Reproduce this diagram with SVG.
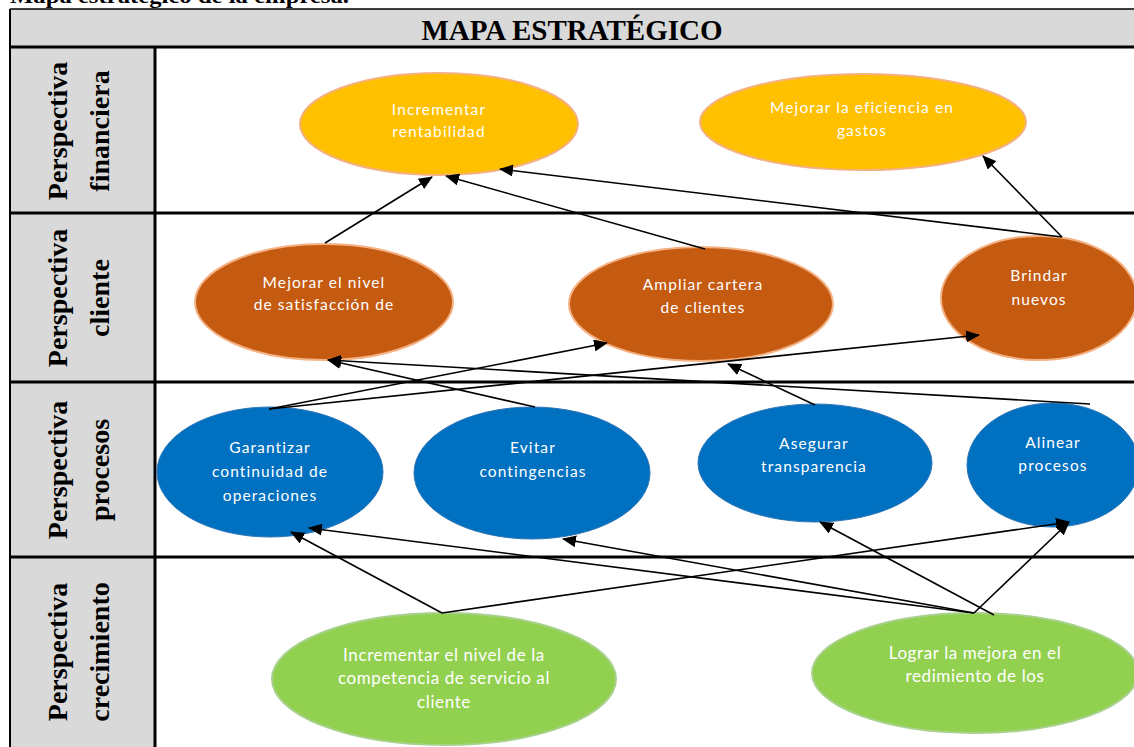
<svg xmlns="http://www.w3.org/2000/svg" width="1134" height="747" viewBox="0 0 1134 747">
<style>
.hdr{font-family:"Liberation Serif",serif;font-weight:bold;fill:#000}
.lbl{font-family:"Liberation Serif",serif;font-weight:bold;font-size:28px;fill:#000;text-anchor:middle}
.nt{font-family:Lato,"Liberation Sans",sans-serif;font-size:15.5px;fill:#fff;text-anchor:middle;letter-spacing:1.1px}
.gt{font-family:Lato,"Liberation Sans",sans-serif;font-size:17px;fill:#fff;text-anchor:middle;letter-spacing:0.6px}
.fin{fill:#FFC000;stroke:#F4B183;stroke-width:2}
.cli{fill:#C55A11;stroke:#F4B183;stroke-width:2}
.pro{fill:#0070C0;stroke:#2E75B6;stroke-width:1}
.cre{fill:#92D050;stroke:#A9D18E;stroke-width:2}
.c{stroke:#000;stroke-width:1.6;fill:none;marker-end:url(#ah)}
.rule{stroke:#000;stroke-width:3}
</style>
<defs>
<marker id="ah" markerUnits="userSpaceOnUse" markerWidth="14" markerHeight="12" refX="13" refY="6" orient="auto">
<path d="M0,0 L14,6 L0,12 z" fill="#000"/>
</marker>
</defs>
<rect width="1134" height="747" fill="#fff"/>
<text class="hdr" x="10" y="3" font-size="20" textLength="339" lengthAdjust="spacingAndGlyphs">Mapa estratégico de la empresa.</text>
<g id="table">
<rect x="10" y="9" width="1130" height="38" fill="#D9D9D9"/>
<rect x="10" y="47" width="145" height="700" fill="#D9D9D9"/>
<line x1="10" y1="9" x2="1134" y2="9" stroke="#000" stroke-width="1.5"/>
<line x1="10" y1="9" x2="10" y2="747" stroke="#000" stroke-width="2"/>
<line x1="155" y1="47" x2="155" y2="747" class="rule"/>
<line x1="10" y1="47" x2="1134" y2="47" class="rule"/>
<line x1="10" y1="213" x2="1134" y2="213" class="rule"/>
<line x1="10" y1="382" x2="1134" y2="382" class="rule"/>
<line x1="10" y1="557" x2="1134" y2="557" class="rule"/>
<text class="hdr" x="572" y="40" font-size="29" text-anchor="middle">MAPA ESTRATÉGICO</text>
<g transform="translate(67,131) rotate(-90)"><text class="lbl" x="0" y="0">Perspectiva</text><text class="lbl" x="0" y="42">financiera</text></g>
<g transform="translate(67,298) rotate(-90)"><text class="lbl" x="0" y="0">Perspectiva</text><text class="lbl" x="0" y="42">cliente</text></g>
<g transform="translate(67,470) rotate(-90)"><text class="lbl" x="0" y="0">Perspectiva</text><text class="lbl" x="0" y="42">procesos</text></g>
<g transform="translate(67,652) rotate(-90)"><text class="lbl" x="0" y="0">Perspectiva</text><text class="lbl" x="0" y="42">crecimiento</text></g>
</g>
<g id="n-incrementar-rentabilidad">
<ellipse class="fin" cx="439" cy="124" rx="139" ry="51"/>
<text class="nt" x="439" y="115">Incrementar</text>
<text class="nt" x="439" y="137">rentabilidad</text>
</g>
<g id="n-mejorar-eficiencia">
<ellipse class="fin" cx="863" cy="122" rx="163" ry="48"/>
<text class="nt" x="862" y="113">Mejorar la eficiencia en</text>
<text class="nt" x="862" y="136">gastos</text>
</g>
<g id="n-mejorar-satisfaccion">
<ellipse class="cli" cx="324" cy="302" rx="129" ry="58"/>
<text class="nt" x="324" y="288">Mejorar el nivel</text>
<text class="nt" x="324" y="310">de satisfacción de</text>
</g>
<g id="n-ampliar-cartera">
<ellipse class="cli" cx="701" cy="304" rx="132" ry="57"/>
<text class="nt" x="703" y="290">Ampliar  cartera</text>
<text class="nt" x="703" y="313">de clientes</text>
</g>
<g id="n-brindar-nuevos">
<ellipse class="cli" cx="1039" cy="298" rx="98" ry="62"/>
<text class="nt" x="1039" y="281">Brindar</text>
<text class="nt" x="1039" y="305">nuevos</text>
</g>
<g id="n-garantizar">
<ellipse class="pro" cx="270" cy="472" rx="113" ry="65"/>
<text class="nt" x="270" y="453">Garantizar</text>
<text class="nt" x="270" y="477">continuidad de</text>
<text class="nt" x="270" y="501">operaciones</text>
</g>
<g id="n-evitar">
<ellipse class="pro" cx="532" cy="473" rx="118" ry="66"/>
<text class="nt" x="533" y="453">Evitar</text>
<text class="nt" x="533" y="477">contingencias</text>
</g>
<g id="n-asegurar">
<ellipse class="pro" cx="815" cy="463" rx="117" ry="59"/>
<text class="nt" x="814" y="449">Asegurar</text>
<text class="nt" x="814" y="472">transparencia</text>
</g>
<g id="n-alinear">
<ellipse class="pro" cx="1053" cy="465" rx="86" ry="62"/>
<text class="nt" x="1053" y="448">Alinear</text>
<text class="nt" x="1053" y="471">procesos</text>
</g>
<g id="n-competencia">
<ellipse class="cre" cx="444" cy="679" rx="172" ry="66"/>
<text class="gt" x="444" y="661">Incrementar el nivel de la</text>
<text class="gt" x="444" y="684">competencia de servicio al</text>
<text class="gt" x="444" y="708">cliente</text>
</g>
<g id="n-lograr-mejora">
<ellipse class="cre" cx="975" cy="673" rx="163" ry="60"/>
<text class="gt" x="975" y="659">Lograr la mejora en el</text>
<text class="gt" x="975" y="682">redimiento de los</text>
</g>
<g id="connectors">
<line class="c" x1="325" y1="243" x2="432" y2="177"/>
<line class="c" x1="705" y1="249" x2="446" y2="176"/>
<line class="c" x1="1062" y1="237" x2="500" y2="169"/>
<line class="c" x1="1062" y1="237" x2="983" y2="156"/>
<line class="c" x1="269" y1="409" x2="607" y2="343"/>
<line class="c" x1="269" y1="409" x2="979" y2="335"/>
<line class="c" x1="535" y1="407" x2="328" y2="360"/>
<line class="c" x1="1090" y1="404" x2="328" y2="360"/>
<line class="c" x1="815" y1="405" x2="728" y2="364"/>
<line class="c" x1="442" y1="613" x2="291" y2="532"/>
<line class="c" x1="442" y1="613" x2="1069" y2="522"/>
<line class="c" x1="974" y1="613" x2="309" y2="528"/>
<line class="c" x1="974" y1="613" x2="563" y2="539"/>
<line class="c" x1="994" y1="615" x2="820" y2="522"/>
<line class="c" x1="974" y1="613" x2="1069" y2="522"/>
</g>
</svg>
